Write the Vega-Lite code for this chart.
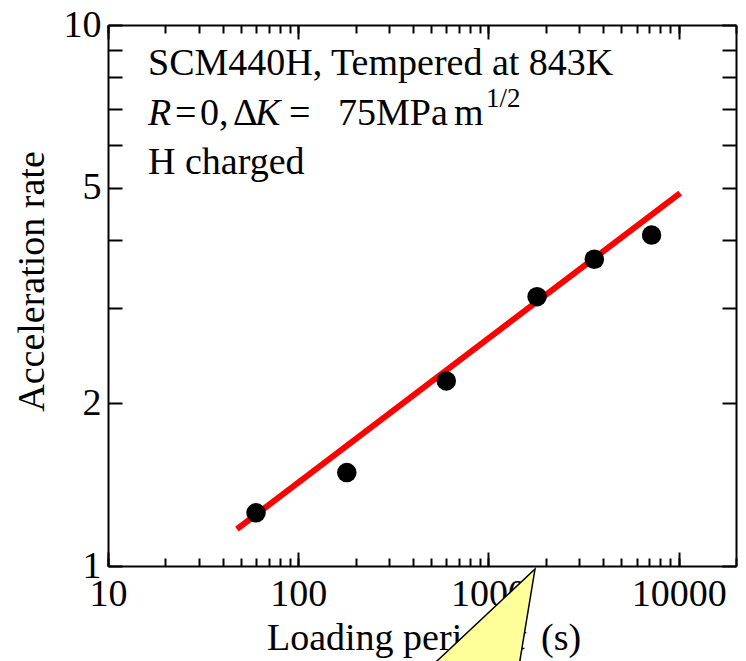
{
  "$schema": "https://vega.github.io/schema/vega-lite/v6.json",
  "width": 628,
  "height": 541,
  "autosize": "none",
  "padding": {"left": 108, "top": 25, "right": 10, "bottom": 95},
  "background": "white",
  "config": {
    "view": {"stroke": null},
    "font": "Liberation Serif",
    "axis": {
      "grid": false,
      "domainColor": "black",
      "domainWidth": 2,
      "tickColor": "black",
      "tickWidth": 2,
      "labelColor": "black",
      "labelFont": "Liberation Serif",
      "labelFontSize": 38,
      "labelFlush": false,
      "labelOverlap": false,
      "labelBound": false,
      "titleFont": "Liberation Serif",
      "titleFontSize": 38,
      "titleFontWeight": "normal",
      "titleColor": "black"
    },
    "text": {"font": "Liberation Serif", "fontSize": 38, "color": "black", "align": "left", "baseline": "alphabetic"}
  },
  "layer": [
    {
      "layer": [
        {
          "data": {"values": [{"t": 47.6, "rate": 1.17}, {"t": 10170, "rate": 4.89}]},
          "mark": {"type": "line", "color": "#ff0000", "strokeWidth": 6},
          "encoding": {
            "x": {
              "field": "t", "type": "quantitative",
              "scale": {"type": "log", "domain": [10, 20000], "nice": false},
              "axis": {
                "orient": "bottom",
                "title": null,
                "values": [10, 20, 30, 40, 50, 60, 70, 80, 90, 100, 200, 300, 400, 500, 600, 700, 800, 900, 1000, 2000, 3000, 4000, 5000, 6000, 7000, 8000, 9000, 10000, 20000],
                "tickCount": 100,
                "labelExpr": "(datum.value == 10 || datum.value == 100 || datum.value == 1000 || datum.value == 10000) ? '' + datum.value : ''",
                "tickSize": -8,
                "labelPadding": 17
              }
            },
            "y": {
              "field": "rate", "type": "quantitative",
              "scale": {"type": "log", "domain": [1, 10], "nice": false},
              "axis": {
                "orient": "left",
                "title": "Acceleration rate",
                "values": [1, 2, 3, 4, 5, 6, 7, 8, 9, 10],
                "tickCount": 100,
                "labelExpr": "(datum.value == 1 || datum.value == 2 || datum.value == 5 || datum.value == 10) ? '' + datum.value : ''",
                "tickSize": -14,
                "labelPadding": 21,
                "titlePadding": 12,
                "titleY": 256
              }
            }
          }
        },
        {
          "data": {"values": [
            {"t": 60, "rate": 1.254},
            {"t": 180, "rate": 1.488},
            {"t": 600, "rate": 2.198},
            {"t": 1800, "rate": 3.147},
            {"t": 3600, "rate": 3.69},
            {"t": 7200, "rate": 4.09}
          ]},
          "mark": {"type": "circle", "size": 380, "opacity": 1, "color": "black"},
          "encoding": {
            "x": {"field": "t", "type": "quantitative"},
            "y": {"field": "rate", "type": "quantitative"}
          }
        },
        {
          "data": {"values": [{}]},
          "mark": {"type": "text", "text": "SCM440H, Tempered at 843K"},
          "encoding": {"x": {"datum": 16.23, "type": "quantitative"}, "y": {"datum": 8.08, "type": "quantitative"}}
        },
        {
          "data": {"values": [{}]},
          "mark": {"type": "text", "text": "R", "fontStyle": "italic"},
          "encoding": {"x": {"datum": 16.23, "type": "quantitative"}, "y": {"datum": 6.535, "type": "quantitative"}}
        },
        {
          "data": {"values": [{}]},
          "mark": {"type": "text", "text": "=", "dx": 27},
          "encoding": {"x": {"datum": 16.23, "type": "quantitative"}, "y": {"datum": 6.535, "type": "quantitative"}}
        },
        {
          "data": {"values": [{}]},
          "mark": {"type": "text", "text": "0,", "dx": 52},
          "encoding": {"x": {"datum": 16.23, "type": "quantitative"}, "y": {"datum": 6.535, "type": "quantitative"}}
        },
        {
          "data": {"values": [{}]},
          "mark": {"type": "text", "text": "Δ", "dx": 85},
          "encoding": {"x": {"datum": 16.23, "type": "quantitative"}, "y": {"datum": 6.535, "type": "quantitative"}}
        },
        {
          "data": {"values": [{}]},
          "mark": {"type": "text", "text": "K", "fontStyle": "italic", "dx": 107},
          "encoding": {"x": {"datum": 16.23, "type": "quantitative"}, "y": {"datum": 6.535, "type": "quantitative"}}
        },
        {
          "data": {"values": [{}]},
          "mark": {"type": "text", "text": "=", "dx": 141},
          "encoding": {"x": {"datum": 16.23, "type": "quantitative"}, "y": {"datum": 6.535, "type": "quantitative"}}
        },
        {
          "data": {"values": [{}]},
          "mark": {"type": "text", "text": "75MPa", "dx": 190},
          "encoding": {"x": {"datum": 16.23, "type": "quantitative"}, "y": {"datum": 6.535, "type": "quantitative"}}
        },
        {
          "data": {"values": [{}]},
          "mark": {"type": "text", "text": "m", "dx": 306},
          "encoding": {"x": {"datum": 16.23, "type": "quantitative"}, "y": {"datum": 6.535, "type": "quantitative"}}
        },
        {
          "data": {"values": [{}]},
          "mark": {"type": "text", "text": "1/2", "fontSize": 27, "dx": 338},
          "encoding": {"x": {"datum": 16.23, "type": "quantitative"}, "y": {"datum": 7.05, "type": "quantitative"}}
        },
        {
          "data": {"values": [{}]},
          "mark": {"type": "text", "text": "H charged"},
          "encoding": {"x": {"datum": 16.23, "type": "quantitative"}, "y": {"datum": 5.30, "type": "quantitative"}}
        },
        {
          "data": {"values": [{}]},
          "mark": {"type": "text", "text": "Loading period"},
          "encoding": {"x": {"datum": 68.5, "type": "quantitative"}, "y": {"datum": 0.6995, "type": "quantitative"}}
        },
        {
          "data": {"values": [{}]},
          "mark": {"type": "text", "text": "t", "fontStyle": "italic", "dx": 248},
          "encoding": {"x": {"datum": 68.5, "type": "quantitative"}, "y": {"datum": 0.6995, "type": "quantitative"}}
        },
        {
          "data": {"values": [{}]},
          "mark": {"type": "text", "text": "(s)", "dx": 274},
          "encoding": {"x": {"datum": 68.5, "type": "quantitative"}, "y": {"datum": 0.6995, "type": "quantitative"}}
        },
        {
          "data": {"values": [
            {"yv": 0.98731, "xa": 1756, "xb": 1756},
            {"yv": 0.5653, "xa": 324.2, "xb": 1352}
          ]},
          "mark": {"type": "area", "orient": "horizontal", "fill": "#ffff99", "stroke": "black", "strokeWidth": 1.5, "opacity": 1},
          "encoding": {
            "y": {"field": "yv", "type": "quantitative"},
            "x": {"field": "xa", "type": "quantitative"},
            "x2": {"field": "xb"}
          }
        }
      ]
    },
    {
      "data": {"values": [{"t": 60, "rate": 1.254}]},
      "mark": {"type": "circle", "opacity": 0},
      "encoding": {
        "x": {
          "field": "t", "type": "quantitative",
          "scale": {"type": "log", "domain": [10, 20000], "nice": false},
          "axis": {
            "orient": "top",
            "title": null,
            "labels": false,
            "values": [10, 20, 30, 40, 50, 60, 70, 80, 90, 100, 200, 300, 400, 500, 600, 700, 800, 900, 1000, 2000, 3000, 4000, 5000, 6000, 7000, 8000, 9000, 10000, 20000],
            "tickCount": 100,
            "tickSize": -8
          }
        },
        "y": {
          "field": "rate", "type": "quantitative",
          "scale": {"type": "log", "domain": [1, 10], "nice": false},
          "axis": {
            "orient": "right",
            "title": null,
            "labels": false,
            "values": [1, 2, 3, 4, 5, 6, 7, 8, 9, 10],
            "tickCount": 100,
            "tickSize": -14
          }
        }
      }
    },
    {
      "data": {"values": [{"t": 60, "rate": 1.254}]},
      "mark": {"type": "circle", "opacity": 0},
      "encoding": {
        "x": {
          "field": "t", "type": "quantitative",
          "scale": {"type": "log", "domain": [10, 20000], "nice": false},
          "axis": {
            "orient": "bottom",
            "title": null,
            "labels": false,
            "domain": false,
            "values": [10, 100, 1000, 10000],
            "tickSize": -14
          }
        },
        "y": {
          "field": "rate", "type": "quantitative",
          "scale": {"type": "log", "domain": [1, 10], "nice": false},
          "axis": null
        }
      }
    },
    {
      "data": {"values": [{"t": 60, "rate": 1.254}]},
      "mark": {"type": "circle", "opacity": 0},
      "encoding": {
        "x": {
          "field": "t", "type": "quantitative",
          "scale": {"type": "log", "domain": [10, 20000], "nice": false},
          "axis": {
            "orient": "top",
            "title": null,
            "labels": false,
            "domain": false,
            "values": [10, 100, 1000, 10000],
            "tickSize": -14
          }
        },
        "y": {
          "field": "rate", "type": "quantitative",
          "scale": {"type": "log", "domain": [1, 10], "nice": false},
          "axis": null
        }
      }
    }
  ],
  "resolve": {"scale": {"x": "independent", "y": "independent"}}
}
